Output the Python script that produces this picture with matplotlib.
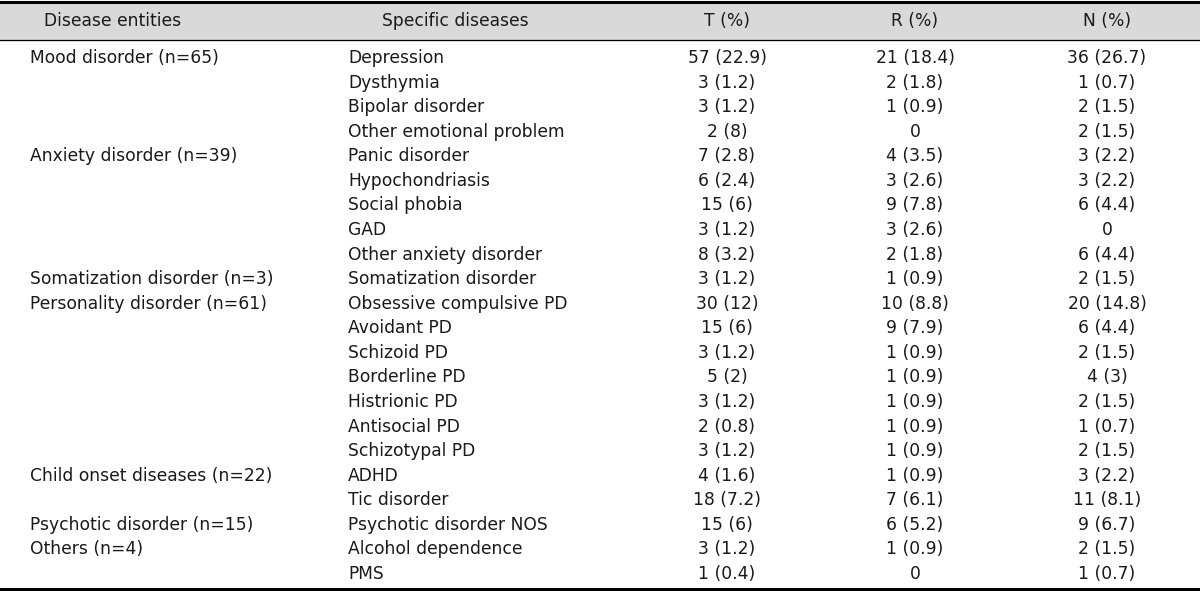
import matplotlib
matplotlib.use('Agg')
import matplotlib.pyplot as plt

plt.rcParams['font.family'] = ['DejaVu Sans']

headers = ['Disease entities', 'Specific diseases', 'T (%)', 'R (%)', 'N (%)']
entities = ['Mood disorder (n=65)', '', '', '',
            'Anxiety disorder (n=39)', '', '', '', '',
            'Somatization disorder (n=3)',
            'Personality disorder (n=61)', '', '', '', '', '', '',
            'Child onset diseases (n=22)', '',
            'Psychotic disorder (n=15)',
            'Others (n=4)', '']
diseases = ['Depression', 'Dysthymia', 'Bipolar disorder', 'Other emotional problem',
            'Panic disorder', 'Hypochondriasis', 'Social phobia', 'GAD', 'Other anxiety disorder',
            'Somatization disorder',
            'Obsessive compulsive PD', 'Avoidant PD', 'Schizoid PD', 'Borderline PD',
            'Histrionic PD', 'Antisocial PD', 'Schizotypal PD',
            'ADHD', 'Tic disorder', 'Psychotic disorder NOS',
            'Alcohol dependence', 'PMS']
t_vals = ['57 (22.9)', '3 (1.2)', '3 (1.2)', '2 (8)', '7 (2.8)', '6 (2.4)', '15 (6)', '3 (1.2)',
          '8 (3.2)', '3 (1.2)', '30 (12)', '15 (6)', '3 (1.2)', '5 (2)', '3 (1.2)', '2 (0.8)',
          '3 (1.2)', '4 (1.6)', '18 (7.2)', '15 (6)', '3 (1.2)', '1 (0.4)']
r_vals = ['21 (18.4)', '2 (1.8)', '1 (0.9)', '0', '4 (3.5)', '3 (2.6)', '9 (7.8)', '3 (2.6)',
          '2 (1.8)', '1 (0.9)', '10 (8.8)', '9 (7.9)', '1 (0.9)', '1 (0.9)', '1 (0.9)', '1 (0.9)',
          '1 (0.9)', '1 (0.9)', '7 (6.1)', '6 (5.2)', '1 (0.9)', '0']
n_vals = ['36 (26.7)', '1 (0.7)', '2 (1.5)', '2 (1.5)', '3 (2.2)', '3 (2.2)', '6 (4.4)', '0',
          '6 (4.4)', '2 (1.5)', '20 (14.8)', '6 (4.4)', '2 (1.5)', '4 (3)', '2 (1.5)', '1 (0.7)',
          '2 (1.5)', '3 (2.2)', '11 (8.1)', '9 (6.7)', '2 (1.5)', '1 (0.7)']

W, H = 1200, 591
fig = plt.figure(figsize=(12, 5.91), dpi=100)
ax = fig.add_axes([0, 0, 1, 1])
ax.set_xlim(0, W)
ax.set_ylim(H, 0)
ax.axis('off')

fs = 12.3
col = '#1a1a1a'
# header band
ax.axhspan(3, 40, color='#d9d9d9', zorder=0)
ax.axhline(2, color='black', lw=2.2)
ax.axhline(40, color='black', lw=0.9)
ax.axhline(589, color='black', lw=2.2)

hx = [113, 455, 727, 915, 1107]
for x, h in zip(hx, headers):
    ax.text(x, 21, h, ha='center', va='center', fontsize=fs, color=col)

y0, dy = 58, 24.57
for i in range(len(diseases)):
    y = y0 + i * dy
    if entities[i]:
        ax.text(30, y, entities[i], ha='left', va='center', fontsize=fs, color=col)
    ax.text(348, y, diseases[i], ha='left', va='center', fontsize=fs, color=col)
    ax.text(727, y, t_vals[i], ha='center', va='center', fontsize=fs, color=col)
    ax.text(915, y, r_vals[i], ha='center', va='center', fontsize=fs, color=col)
    ax.text(1107, y, n_vals[i], ha='center', va='center', fontsize=fs, color=col)

fig.savefig('out.png', dpi=100)
